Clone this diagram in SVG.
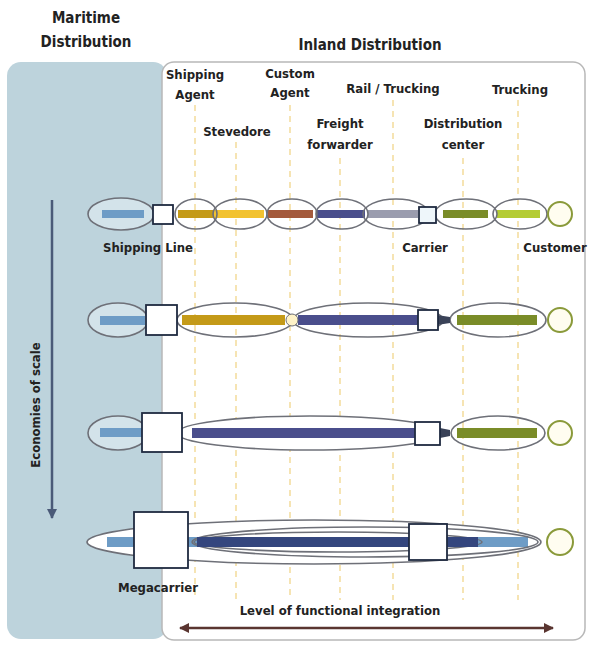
<svg xmlns="http://www.w3.org/2000/svg" width="590" height="647" viewBox="0 0 590 647">
<defs>
<style>
text{font-family:"DejaVu Sans Condensed","DejaVu Sans","Liberation Sans",sans-serif;font-stretch:condensed;font-weight:bold;font-size:13px;fill:#222;text-anchor:middle}
.t{font-size:15px}
.dash{stroke:#f3dc9a;stroke-width:1.5;stroke-dasharray:6 5;fill:none}
.ell{fill:none;stroke:#6e7078;stroke-width:1.6}
.ellm{fill:#d3e3ea;stroke:#6e7078;stroke-width:1.6}
.ellw{fill:#fff;stroke:#6e7078;stroke-width:1.6}
.box{fill:#fff;stroke:#1f2a40;stroke-width:1.8}
.cust{fill:#fffdf0;stroke:#8a9a3a;stroke-width:2}
</style>
<marker id="ah" viewBox="0 0 10 10" refX="9" refY="5" markerWidth="4" markerHeight="4" orient="auto-start-reverse"><path d="M0,0 L10,5 L0,10 z" fill="#5a3530"/></marker>
<marker id="ahb" viewBox="0 0 10 10" refX="9" refY="5" markerWidth="4" markerHeight="4" orient="auto"><path d="M0,0 L10,5 L0,10 z" fill="#4a5a78"/></marker>
</defs>
<rect width="590" height="647" fill="#fff"/>
<g id="maritime-panel">
<rect x="7" y="62" width="160" height="577" rx="14" fill="#bdd3dc"/>
<text class="t" x="86" y="23">Maritime</text>
<text class="t" x="86" y="47">Distribution</text>
</g>
<g id="inland-panel">
<rect x="162" y="62" width="423" height="578" rx="12" fill="#fff" stroke="#b8b8b8" stroke-width="1.5"/>
<text class="t" x="370" y="50">Inland Distribution</text>
</g>
<g id="guides">
<line class="dash" x1="195" y1="105" x2="195" y2="600"/>
<line class="dash" x1="236" y1="142" x2="236" y2="600"/>
<line class="dash" x1="290" y1="105" x2="290" y2="600"/>
<line class="dash" x1="340" y1="158" x2="340" y2="600"/>
<line class="dash" x1="393" y1="100" x2="393" y2="600"/>
<line class="dash" x1="463" y1="158" x2="463" y2="600"/>
<line class="dash" x1="518" y1="100" x2="518" y2="600"/>
</g>
<g id="labels">
<text x="195" y="79">Shipping</text><text x="195" y="99">Agent</text>
<text x="237" y="136">Stevedore</text>
<text x="290" y="78">Custom</text><text x="290" y="97">Agent</text>
<text x="340" y="128">Freight</text><text x="340" y="149">forwarder</text>
<text x="393" y="93">Rail / Trucking</text>
<text x="463" y="128">Distribution</text><text x="463" y="149">center</text>
<text x="520" y="94">Trucking</text>
</g>
<g id="row1">
<ellipse class="ellm" cx="121" cy="214" rx="33" ry="16"/>
<rect x="102" y="210" width="42" height="8" fill="#6e9cc6"/>
<rect x="178" y="210" width="37" height="8" fill="#c49a18"/>
<rect x="214" y="210" width="50" height="8" fill="#f2c230"/>
<rect x="268" y="210" width="45" height="8" fill="#a45a3c"/>
<rect x="317" y="210" width="48" height="8" fill="#4a4e8c"/>
<rect x="368" y="210" width="50" height="8" fill="#9a9cae"/>
<rect x="443" y="210" width="45" height="8" fill="#7a8c28"/>
<rect x="497" y="210" width="43" height="8" fill="#b4cc34"/>
<ellipse class="ell" cx="196" cy="214" rx="21" ry="15"/>
<ellipse class="ell" cx="240" cy="214" rx="27" ry="15"/>
<ellipse class="ell" cx="292" cy="214" rx="25" ry="15"/>
<ellipse class="ell" cx="342" cy="214" rx="26" ry="15"/>
<ellipse class="ell" cx="396" cy="214" rx="33" ry="15"/>
<ellipse class="ell" cx="466" cy="214" rx="31" ry="15"/>
<ellipse class="ell" cx="520" cy="214" rx="27" ry="15"/>
<rect class="box" x="153" y="205" width="20" height="19"/>
<rect class="box" x="419" y="207" width="17" height="16" style="fill:#eef6fa"/>
<circle class="cust" cx="560" cy="214" r="12"/>
<text x="148" y="252">Shipping Line</text>
<text x="425" y="252">Carrier</text>
<text x="555" y="252">Customer</text>
</g>
<g id="row2">
<ellipse class="ellm" cx="118" cy="320" rx="30" ry="17"/>
<rect x="100" y="316" width="45" height="9" fill="#6e9cc6"/>
<ellipse class="ell" cx="235" cy="320" rx="58" ry="17"/>
<ellipse class="ell" cx="368" cy="320" rx="75" ry="17"/>
<ellipse class="ell" cx="498" cy="320" rx="48" ry="17"/>
<rect x="182" y="315" width="103" height="10" fill="#c49a18"/>
<rect x="298" y="315" width="120" height="10" fill="#4a4e8c"/>
<path d="M437,315 L450,317 L450,323 L437,325 z" fill="#3a4258"/>
<rect x="457" y="315" width="80" height="10" fill="#7a8c28"/>
<circle cx="292" cy="320" r="6" fill="#fff3c8" stroke="#6e7078" stroke-width="1"/>
<rect class="box" x="146" y="305" width="31" height="30"/>
<rect class="box" x="418" y="310" width="20" height="20"/>
<circle class="cust" cx="560" cy="320" r="12"/>
</g>
<g id="row3">
<ellipse class="ellm" cx="118" cy="433" rx="30" ry="17"/>
<rect x="100" y="428" width="45" height="9" fill="#6e9cc6"/>
<ellipse class="ellw" cx="310" cy="433" rx="133" ry="17"/>
<ellipse class="ell" cx="498" cy="433" rx="47" ry="17"/>
<rect x="192" y="428" width="225" height="10" fill="#4a4e8c"/>
<path d="M440,428 L450,430 L450,436 L440,438 z" fill="#3a4258"/>
<rect x="457" y="428" width="80" height="10" fill="#7a8c28"/>
<rect class="box" x="142" y="413" width="40" height="39"/>
<rect class="box" x="415" y="422" width="25" height="23"/>
<circle class="cust" cx="560" cy="433" r="12"/>
</g>
<g id="row4">
<ellipse class="ellw" cx="314" cy="542" rx="227" ry="22"/>
<rect x="107" y="537" width="421" height="10" fill="#6e9cc6"/>
<ellipse class="ell" cx="365" cy="542" rx="173" ry="15"/>
<ellipse class="ell" cx="338" cy="542" rx="144" ry="10"/>
<rect x="197" y="537" width="281" height="10" fill="#34467e"/>
<rect class="box" x="134" y="512" width="54" height="56"/>
<rect class="box" x="409" y="524" width="38" height="36"/>
<circle class="cust" cx="560" cy="542" r="13"/>
<text x="158" y="592">Megacarrier</text>
</g>
<g id="axes">
<line x1="52" y1="200" x2="52" y2="518" stroke="#4a5a78" stroke-width="2.5" marker-end="url(#ahb)"/>
<text transform="translate(40,405) rotate(-90)">Economies of scale</text>
<line x1="180" y1="628" x2="553" y2="628" stroke="#5a3530" stroke-width="2.5" marker-start="url(#ah)" marker-end="url(#ah)"/>
<text x="340" y="615">Level of functional integration</text>
</g>
</svg>
